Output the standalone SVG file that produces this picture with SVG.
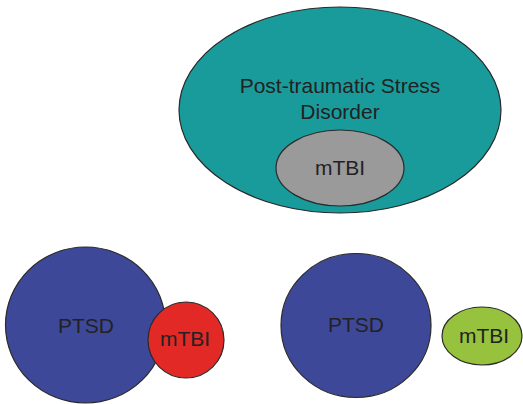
<svg xmlns="http://www.w3.org/2000/svg" width="523" height="404" viewBox="0 0 523 404">
<style>
.s{stroke:#2a2a2a;stroke-width:1.2}
text{font-family:"Liberation Sans",Arial,sans-serif;font-size:21px;fill:#222;text-anchor:middle}
</style>
<rect width="523" height="404" fill="#fff"/>
<g id="connectors"/>
<g id="ptsd-large">
<ellipse class="s" cx="340" cy="110" rx="161" ry="103" fill="#1a9b9b"/>
<text x="340" y="93">Post-traumatic Stress</text>
<text x="340" y="119">Disorder</text>
</g>
<g id="mtbi-inner">
<ellipse class="s" cx="340" cy="168" rx="64" ry="38" fill="#9a9a9a"/>
<text x="340" y="175">mTBI</text>
</g>
<g id="ptsd-left">
<ellipse class="s" cx="85.5" cy="325" rx="80" ry="78" fill="#3e4899"/>
<text x="86" y="333">PTSD</text>
</g>
<g id="mtbi-red">
<circle class="s" cx="186" cy="340" r="38" fill="#e32926"/>
<text x="185" y="346">mTBI</text>
</g>
<g id="ptsd-right">
<ellipse class="s" cx="356" cy="325.5" rx="75" ry="72" fill="#3e4899"/>
<text x="356" y="332">PTSD</text>
</g>
<g id="mtbi-green">
<ellipse class="s" cx="482" cy="336" rx="40" ry="29" fill="#96c23e"/>
<text x="484" y="343">mTBI</text>
</g>
</svg>
